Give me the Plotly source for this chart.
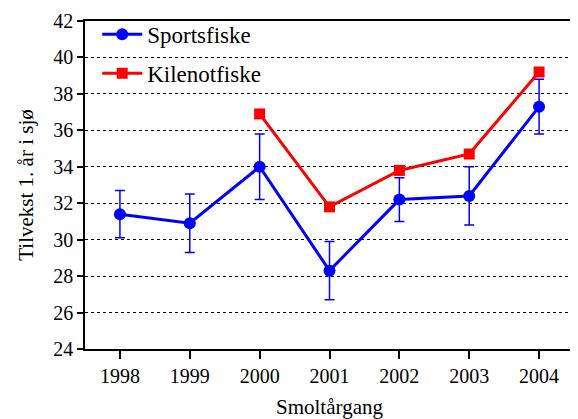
import plotly.graph_objects as go

years = [1998, 1999, 2000, 2001, 2002, 2003, 2004]
sports = [31.4, 30.9, 34.0, 28.3, 32.2, 32.4, 37.3]
sports_err = [1.3, 1.6, 1.8, 1.6, 1.2, 1.6, 1.5]
kile_years = [2000, 2001, 2002, 2003, 2004]
kile = [36.9, 31.8, 33.8, 34.7, 39.2]

font = "Times New Roman, Liberation Serif, serif"

fig = go.Figure()
fig.add_trace(go.Scatter(
    x=years, y=sports, name="Sportsfiske", mode="lines+markers",
    line=dict(color="#0000ff", width=3),
    marker=dict(symbol="circle", size=12, color="#0000ff"),
    error_y=dict(type="data", array=sports_err, visible=True, color="#0000ff",
                 thickness=1.5, width=5),
    legendgroup="a",
))
fig.add_trace(go.Scatter(
    x=kile_years, y=kile, name="Kilenotfiske", mode="lines+markers",
    line=dict(color="#ff0000", width=3),
    marker=dict(symbol="square", size=11, color="#ff0000"),
    legendgroup="b",
))

fig.update_layout(
    width=570, height=411,
    margin=dict(l=77, r=2, t=13, b=70),
    plot_bgcolor="white", paper_bgcolor="white",
    font=dict(family=font, color="black", size=20),
    showlegend=True,
    legend=dict(x=0.025, y=1.025, xanchor="left", yanchor="top",
                bgcolor="rgba(0,0,0,0)", font=dict(size=23, family=font),
                tracegroupgap=6, itemwidth=40),
    xaxis=dict(range=[1997.5, 2004.5], tickvals=years,
               ticktext=[str(y) for y in years],
               tickfont=dict(family=font, size=20),
               showline=True, linecolor="black", linewidth=1.5, mirror=True,
               ticks="outside", ticklen=8, tickwidth=1.5, tickcolor="black",
               showgrid=False, zeroline=False,
               title=dict(text="Smoltårgang", font=dict(size=21, family=font), standoff=15)),
    yaxis=dict(range=[24, 42], tickvals=list(range(24, 43, 2)),
               tickfont=dict(family=font, size=20),
               showline=True, linecolor="black", linewidth=1.5, mirror=True,
               ticks="outside", ticklen=6, tickwidth=1.5, tickcolor="black",
               showgrid=True, gridcolor="black", griddash="dot", gridwidth=1.2,
               zeroline=False,
               title=dict(text="Tilvekst 1. år i sjø", font=dict(size=21, family=font), standoff=14)),
)

fig.write_html("out.html")
